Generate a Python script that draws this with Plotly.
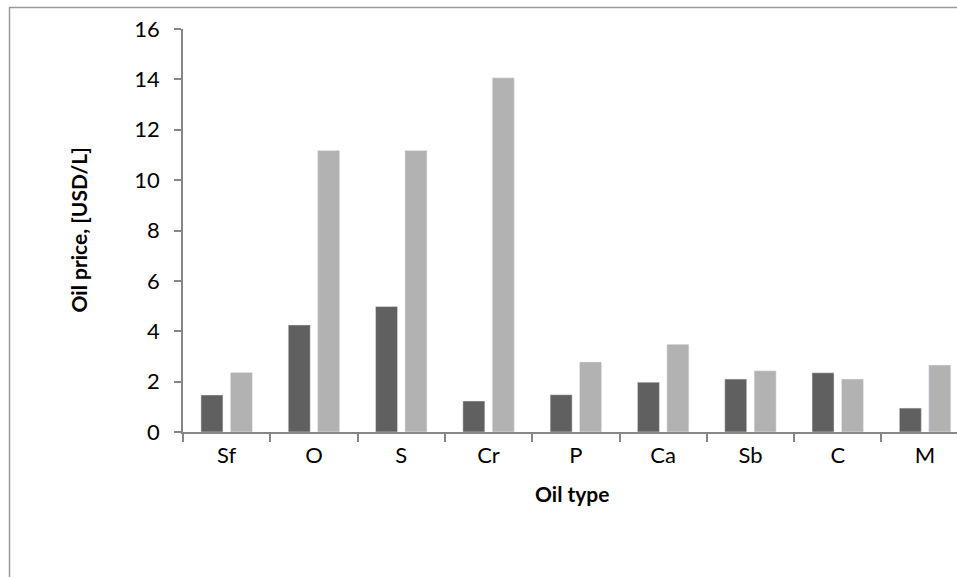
import plotly.graph_objects as go

categories = ["Sf", "O", "S", "Cr", "P", "Ca", "Sb", "C", "M"]
series_dark = [1.47, 4.25, 4.98, 1.23, 1.48, 1.98, 2.10, 2.35, 0.95]
series_light = [2.36, 11.18, 11.18, 14.06, 2.78, 3.48, 2.43, 2.10, 2.66]
y_ticks = [0, 2, 4, 6, 8, 10, 12, 14, 16]

W, H = 957, 577
L, T, B = 183, 29, 145
pw = W - L
ph = H - T - B

fig = go.Figure()
fig.add_trace(go.Bar(x=categories, y=series_dark, marker=dict(color="#606060"), name="A"))
fig.add_trace(go.Bar(x=categories, y=series_light, marker=dict(color="#b2b2b2"), name="B"))

font_family = "Lato, Open Sans, sans-serif"
fig.update_layout(
    width=W, height=H,
    margin=dict(l=L, r=0, t=T, b=B, pad=0),
    paper_bgcolor="white", plot_bgcolor="white",
    showlegend=False,
    barmode="group", bargap=0.326, bargroupgap=0.252,
    font=dict(family=font_family, size=22, color="#000000"),
    xaxis=dict(
        range=[-0.5, -0.5 + pw / 87.3], showgrid=False, zeroline=False,
        showline=True, linecolor="#868686", linewidth=1.5,
        ticks="outside", tickson="boundaries", ticklen=8, tickcolor="#868686", tickwidth=1.5,
        tickfont=dict(size=22), ticklabelstandoff=3, fixedrange=True,
    ),
    yaxis=dict(
        range=[0, 16], tickvals=y_ticks, showgrid=False, zeroline=False,
        showline=True, linecolor="#868686", linewidth=1.5,
        ticks="outside", ticklen=7, tickcolor="#868686", tickwidth=1.5,
        tickfont=dict(size=22), ticklabelstandoff=10, fixedrange=True,
    ),
    annotations=[
        dict(text="<b>Oil price, [USD/L]</b>", textangle=-90, xref="paper", yref="paper",
             x=(78 - L) / pw, y=0.5, showarrow=False, font=dict(size=21),
             xanchor="center", yanchor="middle"),
        dict(text="<b>Oil type</b>", xref="paper", yref="paper",
             x=(572 - L) / pw, y=(T + ph - 493) / ph, showarrow=False, font=dict(size=21),
             xanchor="center", yanchor="middle"),
    ],
    shapes=[
        dict(type="rect", xref="paper", yref="paper",
             x0=(9.5 - L) / pw, x1=1.5, y0=-1.0, y1=(T + ph - 7.5) / ph,
             line=dict(color="#9a9a9a", width=1.5), fillcolor="rgba(0,0,0,0)", layer="below"),
    ],
)

fig.write_html("out.html", config={"displayModeBar": False},
               post_script="document.body.style.margin='0';")
